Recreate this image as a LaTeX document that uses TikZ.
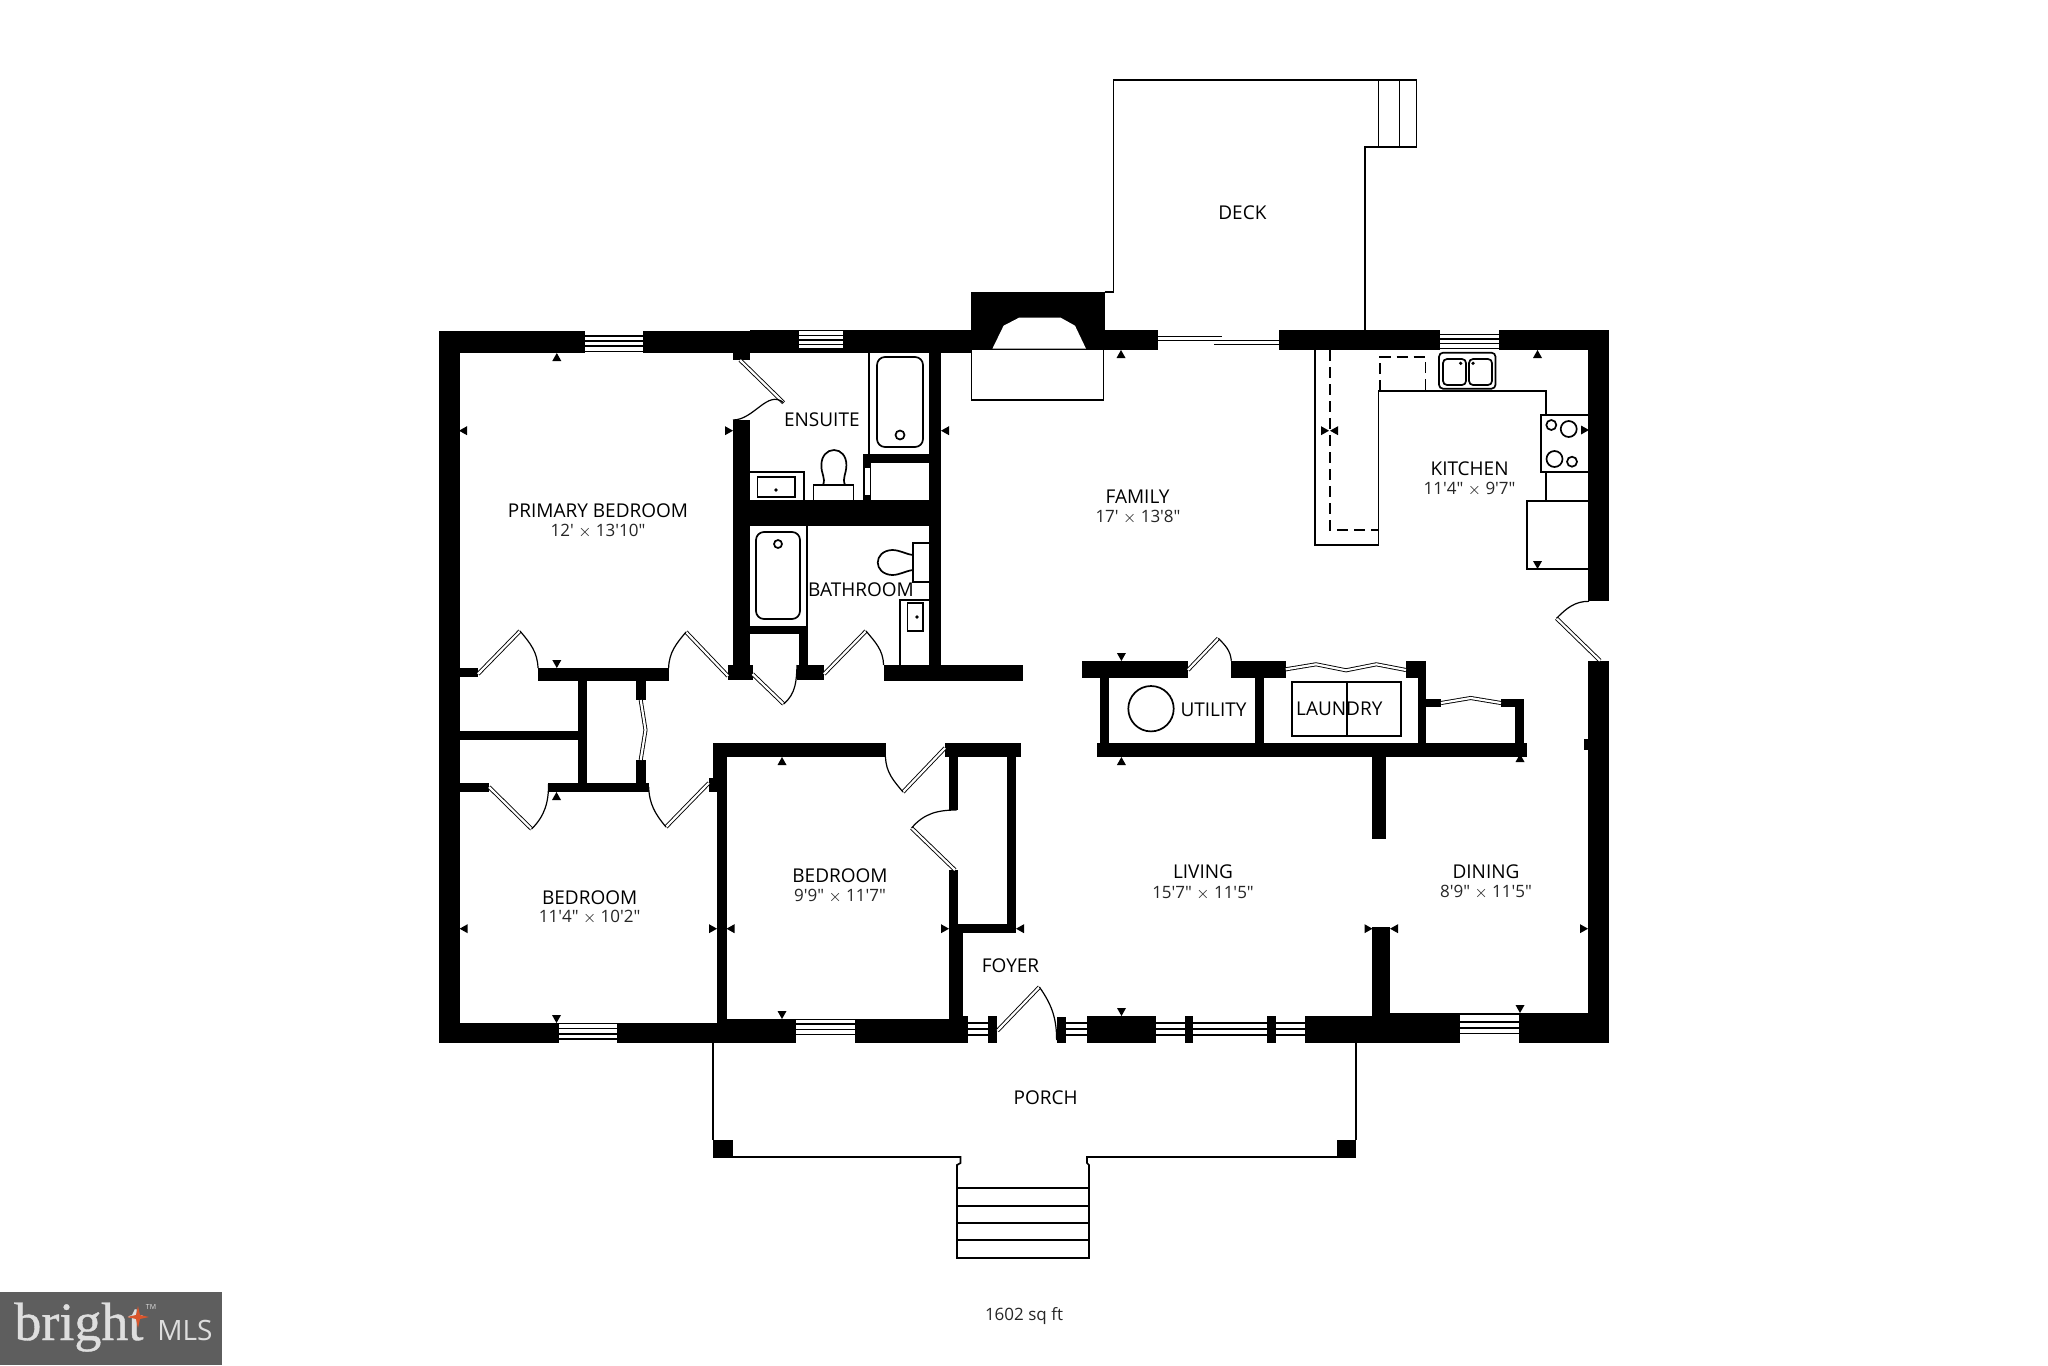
\documentclass[tikz,border=0pt]{standalone}
\usepackage{fontspec}
\newfontfamily\planfont{Open Sans}
\newfontfamily\logofont{Liberation Serif}[FakeBold=0.7]
\definecolor{logogrey}{HTML}{5E5E5E}
\definecolor{logotext}{HTML}{DEDEDE}
\definecolor{logostar}{HTML}{D9552B}
\tikzset{
  wall/.style={fill=black,draw=none},
  thin/.style={draw=black,line width=.85pt},
  leaf/.style={draw=black,double=white,line width=.45pt,double distance=1.1pt},
  swing/.style={draw=black,line width=.6pt},
  room/.style={font=\planfont\fontsize{9.5}{12}\selectfont,inner sep=0pt},
  dims/.style={font=\planfont\fontsize{8.5}{10}\selectfont,inner sep=0pt,text=black!85},
  dashline/.style={draw=black,line width=.85pt,dash pattern=on 5.5pt off 3pt}
}
\newcommand{\wbox}[4]{\fill[wall] (#1,#3) rectangle (#2,#4);}
\newcommand{\win}[5]{\fill[white] (#1,#3) rectangle (#2,#4);
  \foreach \k in {#5}{\draw[black,line width=.8pt] (#1,\k) -- (#2,\k);}}
\newcommand{\mup}[2]{\fill[black] (#1,#2-4) -- (#1+4.5,#2+4) -- (#1-4.5,#2+4) -- cycle;}
\newcommand{\mdown}[2]{\fill[black] (#1,#2+4) -- (#1+4.5,#2-4) -- (#1-4.5,#2-4) -- cycle;}
\newcommand{\mleft}[2]{\fill[black] (#1-4,#2) -- (#1+4,#2-4.5) -- (#1+4,#2+4.5) -- cycle;}
\newcommand{\mright}[2]{\fill[black] (#1+4,#2) -- (#1-4,#2-4.5) -- (#1-4,#2+4.5) -- cycle;}
\begin{document}
\begin{tikzpicture}[x=0.5pt,y=-0.5pt]
\useasboundingbox (0,0) rectangle (2048,1365);
\fill[white] (0,0) rectangle (2048,1365);

% deck and stairs
\draw[thin] (1104.5,291.7) -- (1113.4,291.7) -- (1113.4,80.3) -- (1416.5,80.3) -- (1416.5,147.3) -- (1364.7,147.3) -- (1364.7,331);
\draw[thin] (1378.6,80.3) -- (1378.6,147.3) (1399.6,80.3) -- (1399.6,147.3);

% porch and stairs
\draw[thin] (713,1043) -- (713,1140);
\draw[thin] (1356,1043) -- (1356,1140);
\draw[thin] (732,1157) -- (960.5,1157) -- (960.5,1163) -- (957,1165) -- (957,1258) -- (1089,1258) -- (1089,1165) -- (1087,1163) -- (1087,1157) -- (1337,1157);
\foreach \y in {1188,1205.7,1223,1240}{\draw[thin] (957,\y) -- (1089,\y);}
\wbox{713}{732.7}{1140}{1158}
\wbox{1336.5}{1356}{1140}{1158}

% outer walls
\wbox{439}{459.6}{331}{1043}
\wbox{439}{971}{331}{353}
\wbox{750}{971}{330}{350}
\wbox{971}{1104.5}{291.7}{350}
\wbox{1104.5}{1158}{330}{350}
\wbox{1279}{1608.5}{330}{350}
\wbox{1588.4}{1608.5}{330}{601}
\wbox{1588.4}{1608.5}{660.7}{1043}
\wbox{1583.5}{1588.4}{739}{750}
\wbox{439}{968}{1023}{1043}
\wbox{716.7}{968}{1019}{1043}
\wbox{1304.6}{1459.6}{1016}{1043}
\wbox{1372}{1459.6}{1013}{1043}
\wbox{1518.5}{1608.5}{1013}{1043}
\wbox{1372}{1390}{926.7}{1043}
\wbox{949}{968}{1016}{1043}
\wbox{949}{962.6}{933}{1020}
\wbox{1087}{1155.8}{1016}{1043}

% windows
\win{585}{643}{331}{353}{336,341,346,351.5}
\win{799}{843}{331}{350}{335.5,340,344.5,349}
\win{1440}{1499}{330}{350}{334.5,339,343.5,348.5}
\win{558.5}{617.4}{1023}{1043}{1023.4,1028.5,1034,1039}
\win{795.8}{855}{1019}{1043}{1019.5,1024,1029.5,1034.5}
\win{1459.6}{1518.5}{1013}{1043}{1013.8,1022,1028,1033.5}
\win{968}{988}{1016}{1043}{1023,1029,1035}
\win{1065.8}{1087}{1016}{1043}{1023,1029,1035}
\win{1155.8}{1184.6}{1016}{1043}{1023,1029,1035}
\win{1193}{1266.6}{1016}{1043}{1023,1029,1035}
\win{1276}{1304.6}{1016}{1043}{1023,1029,1035}
\wbox{1184.6}{1193}{1016}{1043}
\wbox{1266.6}{1276}{1016}{1043}
\wbox{988}{997.4}{1016}{1043}
\wbox{1056.6}{1065.8}{1016.7}{1043}

% fireplace
\fill[white] (992.4,348.7) -- (1003.6,325.7) -- (1019,317.7) -- (1060.7,317.7) -- (1075,325.7) -- (1086,348.7) -- cycle;
\draw[thin] (971.4,350) -- (971.4,400) -- (1103.6,400) -- (1103.6,350);

% sliding door
\draw[leaf,double distance=1.8pt] (1158,338.5) -- (1222,338.5);
\draw[leaf,double distance=1.4pt] (1214,342.5) -- (1279,342.5);

% primary / ensuite partition
\wbox{733}{750}{353}{360}
\wbox{733}{750}{420}{680}
\wbox{733}{941}{500}{526}
\wbox{929}{941}{350}{680}
\wbox{863}{929}{454}{463}
\wbox{863}{871}{454}{500}
\fill[white] (864.5,467) rectangle (870,495);
\draw[black,line width=.4pt] (864.5,467) rectangle (870,495);
\wbox{750}{807.5}{626}{634}
\wbox{798.6}{807.5}{626}{665}
\wbox{728}{752.5}{665}{680}
\wbox{797}{823.6}{665}{680}
\wbox{883.6}{1023}{665}{681}
\wbox{459}{478}{668}{677}
\wbox{538}{668.6}{668}{681}
\wbox{578}{587}{677}{783}
\wbox{459}{578}{731}{740}
\wbox{636.4}{645.5}{681}{700}
\wbox{636.4}{645.5}{760}{783}
\wbox{459}{489}{783}{792}
\wbox{548.6}{648.7}{783}{792}
\wbox{708.8}{716.7}{778}{792}
\wbox{712.7}{885.5}{743}{757}
\wbox{712.7}{726.6}{743}{783}
\wbox{716.7}{726.6}{783}{1043}
\wbox{945}{1021}{743}{757}
\wbox{949}{958}{757}{810}
\wbox{949}{958}{870}{1020}
\wbox{958}{1016}{924}{933}
\wbox{1007}{1016}{757}{933}

% utility and laundry
\wbox{1082}{1188}{660.7}{678}
\wbox{1231.3}{1285.7}{660.7}{678}
\wbox{1100}{1108.8}{678}{745}
\wbox{1255}{1264}{678}{745}
\wbox{1097}{1527.3}{742.7}{756.7}
\wbox{1406}{1426.3}{660.7}{678}
\wbox{1417.7}{1426.3}{678}{745}
\wbox{1426}{1441}{698.7}{707.3}
\wbox{1501}{1524}{698.7}{707.3}
\wbox{1515}{1524}{698.7}{745}
\wbox{1372}{1385.6}{756}{838.7}

% doors
\draw[leaf] (740,360) -- (783.6,402.7);
\draw[swing] (783.6,402.7) to[out=140,in=0] (733,420);
\draw[leaf] (824,674) -- (866,631);
\draw[swing] (866,631) to[out=-50,in=92] (883.6,665);
\draw[leaf] (478,674) -- (520,631);
\draw[swing] (520,631) to[out=-50,in=92] (538,668);
\draw[leaf] (728,676) -- (686,632);
\draw[swing] (686,632) to[out=230,in=88] (668.6,668);
\draw[leaf] (752.5,674) -- (783.6,704);
\draw[swing] (783.6,704) to[out=40,in=268] (797,665);
\draw[leaf] (489,787) -- (531.6,829);
\draw[swing] (531.6,829) to[out=45,in=270] (548.6,783);
\draw[leaf] (708.8,783) -- (666,827);
\draw[swing] (666,827) to[out=130,in=272] (648.7,787);
\draw[leaf] (945,748) -- (903,792);
\draw[swing] (903,792) to[out=130,in=272] (885.5,757);
\draw[leaf] (955,870) -- (911.6,828);
\draw[swing] (911.6,828) to[out=50,in=180] (956.7,810);
\draw[leaf] (997.4,1030.7) -- (1039.4,987);
\draw[swing] (1039.4,987) to[out=-55,in=90] (1056.6,1040);
\draw[leaf] (1188,670) -- (1218.3,638.3);
\draw[swing] (1218.3,638.3) to[out=-45,in=95] (1231.3,660.7);
\draw[leaf] (1600,660.7) -- (1556.5,618.3);
\draw[swing] (1556.5,618.3) to[out=45,in=180] (1589,601.3);

% bifold doors
\draw[leaf] (640.7,700) -- (645.5,730) -- (640.7,760);
\draw[leaf] (1285.7,669.3) -- (1316,664.3) -- (1346,670.3) -- (1376.3,664.3) -- (1406,670);
\draw[leaf] (1441,703) -- (1470.7,698) -- (1501,703);

% ensuite fixtures
\draw[thin] (869,350) -- (869,454);
\draw[thin,rounded corners=4pt] (877,357) rectangle (923,447);
\draw[thin] (900,435) circle (4.5);
\draw[thin] (750,472) -- (804,472) -- (804,500);
\draw[thin] (757.5,477) rectangle (795,497);
\fill (776,490) circle (1.8);
\draw[thin] (813.6,500) -- (813.6,485) -- (853.6,485) -- (853.6,500);
\draw[thin] (823,485) .. controls (826,478) and (821,474) .. (821.4,465) .. controls (821.4,456) and (827,450) .. (834,450) .. controls (841,450) and (846.4,456) .. (846.4,465) .. controls (846.4,474) and (842,478) .. (845,485);

% bathroom fixtures
\draw[thin] (807,526) -- (807,626);
\draw[thin,rounded corners=4pt] (756,532) rectangle (800,619);
\draw[thin] (778,544) circle (4);
\draw[thin] (929,543) -- (913,543) -- (913,582) -- (929,582);
\draw[thin] (913,555) .. controls (905,554) and (900,550) .. (892,550) .. controls (873,551) and (873,574) .. (892,575) .. controls (900,575) and (905,571) .. (913,570);
\draw[thin] (900,665) -- (900,600) -- (929,600);
\draw[thin] (907.5,603) rectangle (923,631);
\fill (917,617) circle (1.8);

% kitchen
\draw[thin] (1314.7,350) -- (1314.7,545) -- (1378.6,545) -- (1378.6,391.3) -- (1546,391.3) -- (1546,415);
\draw[thin] (1546,472) -- (1546,501);
\draw[dashline] (1330,350) -- (1330,530) -- (1378.6,530);
\draw[dashline] (1380,391) -- (1380,356.7) -- (1425.4,356.7) -- (1425.4,391);
\draw[thin,rounded corners=2pt] (1439,352.7) rectangle (1495.5,388.7);
\draw[thin,rounded corners=2pt] (1443,359) rectangle (1466,385);
\draw[thin,rounded corners=2pt] (1469,359) rectangle (1492,385);
\fill (1460.7,363.3) circle (1.8);
\fill (1473,363.3) circle (1.8);
\draw[thin] (1588,415) -- (1541,415) -- (1541,472) -- (1588,472);
\draw[thin] (1551.3,425) circle (5);
\draw[thin] (1568.7,429) circle (8);
\draw[thin] (1554.5,459) circle (8);
\draw[thin] (1572,461.7) circle (5);
\draw[thin] (1588,501) -- (1526.8,501) -- (1526.8,569.3) -- (1588,569.3);

% utility and laundry fixtures
\draw[thin] (1151,708.7) circle (22.7);
\draw[thin] (1292.3,681.7) rectangle (1400.7,735.7);
\draw[thin] (1346.7,681.7) -- (1346.7,735.7);

% measure marks
\mup{556.8}{357}\mleft{463}{430.7}\mright{729}{430.7}\mdown{556.8}{664}\mleft{945}{430.7}
\mup{556.5}{796}\mleft{463.6}{928.7}\mright{713}{928.7}\mleft{730.5}{928.7}\mup{782}{761}
\mright{945}{928.7}\mleft{1020}{928.7}\mdown{556.5}{1019}\mdown{782}{1015}
\mup{1121}{354}\mup{1537.5}{354}\mdown{1537.5}{565}\mright{1325}{430.7}\mleft{1334}{430.7}\mright{1585}{430}
\mdown{1121.4}{657}\mup{1121.4}{761}\mup{1520}{758}
\mdown{1121.5}{1012}\mdown{1520}{1009}\mright{1368.5}{928.7}\mleft{1394}{928.7}\mright{1584}{928.7}

% labels
\node[room] (primary) at (598,510.7) {PRIMARY BEDROOM};
\node[dims] (primarydim) at (598,530.7) {12' $\times$ 13'10"};
\node[room] (ensuite) at (821.8,419.3) {ENSUITE};
\node[room] (bathroom) at (861,590) {BATHROOM};
\node[room] (bed2) at (589.7,897.7) {BEDROOM};
\node[dims] (bed2dim) at (589.7,917.3) {11'4" $\times$ 10'2"};
\node[room] (bed3) at (840,875.3) {BEDROOM};
\node[dims] (bed3dim) at (840,896) {9'9" $\times$ 11'7"};
\node[room] (foyer) at (1010.5,966) {FOYER};
\node[room] (deck) at (1242.4,212.7) {DECK};
\node[room] (family) at (1137.5,497) {FAMILY};
\node[dims] (familydim) at (1138,516.7) {17' $\times$ 13'8"};
\node[room] (kitchen) at (1469.6,469) {KITCHEN};
\node[dims] (kitchendim) at (1469.6,489.3) {11'4" $\times$ 9'7"};
\node[room] (utility) at (1213.5,709.3) {UTILITY};
\node[room] (laundry) at (1339.3,708.3) {LAUNDRY};
\node[room] (living) at (1203,872) {LIVING};
\node[dims] (livingdim) at (1203,893) {15'7" $\times$ 11'5"};
\node[room] (dining) at (1486,872) {DINING};
\node[dims] (diningdim) at (1486,892) {8'9" $\times$ 11'5"};
\node[room] (porch) at (1045.6,1097.3) {PORCH};
\node[dims] (area) at (1024,1316) {1602 sq ft};

% logo
\fill[logogrey] (0,1292) rectangle (222,1365);
\node[inner sep=0pt,anchor=base west,text=logotext,font=\logofont\fontsize{27}{27}\selectfont] (logobright) at (14,1340) {bright};
\fill[logostar] (138,1306) -- (140,1315) -- (149,1317) -- (140,1319) -- (138,1328) -- (136,1319) -- (127,1317) -- (136,1315) -- cycle;
\node[inner sep=0pt,text=logotext,font=\planfont\fontsize{3.5}{4}\selectfont] (logotm) at (151,1307) {TM};
\node[inner sep=0pt,anchor=base west,text=logotext,font=\planfont\fontsize{14}{15}\selectfont] (logomls) at (157,1340) {MLS};
\end{tikzpicture}
\end{document}
